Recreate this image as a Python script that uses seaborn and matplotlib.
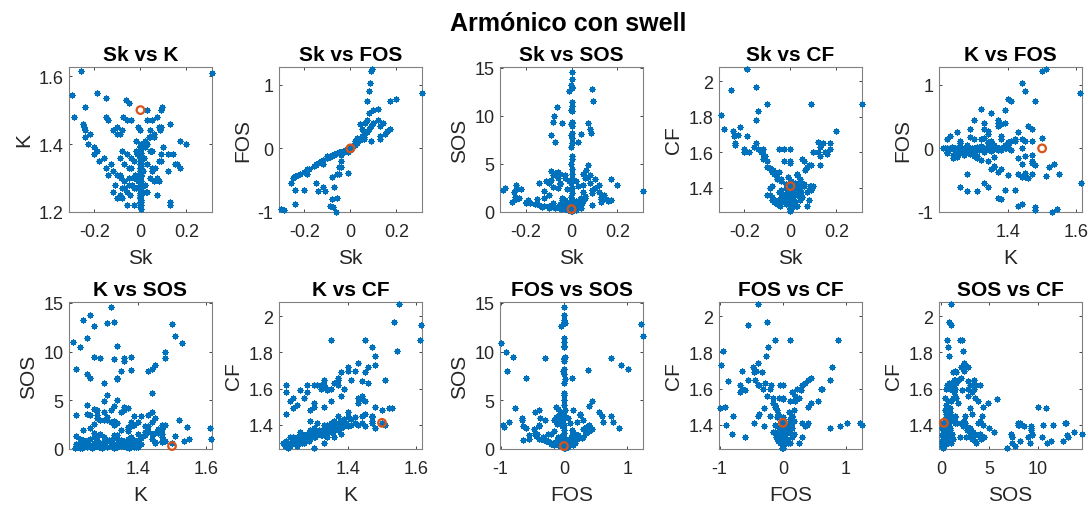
import itertools
import matplotlib
matplotlib.use('Agg')
import matplotlib.pyplot as plt
import pandas as pd
import seaborn as sns

BLUE = '#0072BD'
ORANGE = '#D95319'
variables = ['Sk', 'K', 'FOS', 'SOS', 'CF']

# core cluster: Sk ~ 0, FOS ~ 0, low SOS
core_sk = [0.000, 0.002, -0.003, 0.001, 0.004, -0.002, 0.000, 0.003, -0.004, 0.001,
           0.002, -0.001, 0.000, 0.005, -0.003, 0.002, 0.000, -0.002, 0.003, 0.001,
           -0.004, 0.000, 0.002, -0.001, 0.004, -0.002, 0.001, 0.000, 0.003, -0.003,
           0.001, 0.000, 0.002, -0.001, 0.004, -0.002, 0.000, 0.001, -0.001, 0.002]
core_k = [1.215, 1.22, 1.225, 1.23, 1.235, 1.24, 1.245, 1.25, 1.255, 1.26,
          1.265, 1.27, 1.275, 1.28, 1.285, 1.29, 1.295, 1.30, 1.305, 1.31,
          1.315, 1.32, 1.325, 1.33, 1.335, 1.34, 1.345, 1.35, 1.355, 1.36,
          1.365, 1.37, 1.375, 1.38, 1.385, 1.39, 1.395, 1.40, 1.23, 1.27]
core_fos = [0.00, 0.01, -0.01, 0.00, 0.02, -0.01, 0.00, 0.01, -0.02, 0.00,
            0.01, -0.01, 0.00, 0.02, -0.01, 0.00, 0.01, -0.01, 0.00, 0.02,
            -0.02, 0.00, 0.01, 0.00, 0.01, -0.01, 0.00, 0.00, 0.02, -0.01,
            0.00, 0.01, 0.00, -0.01, 0.02, 0.00, 0.01, 0.00, 0.00, -0.01]
core_sos = [0.1, 0.3, 0.2, 0.5, 0.1, 0.7, 0.3, 0.2, 0.9, 0.4,
            0.1, 0.6, 0.3, 0.8, 0.2, 0.5, 0.1, 0.7, 0.4, 0.2,
            0.9, 0.3, 0.6, 0.1, 0.5, 0.2, 0.8, 0.4, 0.3, 0.6,
            0.2, 0.5, 0.1, 0.7, 0.3, 0.4, 0.2, 0.6, 0.15, 0.25]
core_cf = [1.28, 1.30, 1.27, 1.29, 1.31, 1.30, 1.29, 1.32, 1.31, 1.33,
           1.30, 1.32, 1.34, 1.33, 1.31, 1.35, 1.34, 1.36, 1.33, 1.35,
           1.37, 1.36, 1.34, 1.38, 1.36, 1.37, 1.39, 1.38, 1.36, 1.40,
           1.39, 1.41, 1.38, 1.42, 1.40, 1.43, 1.41, 1.44, 1.28, 1.30]

# points just around the centre
near_sk = [-0.05, -0.04, -0.035, -0.03, -0.025, -0.02, -0.015, -0.01, 0.01, 0.015,
           0.02, 0.025, 0.03, 0.035, 0.04, 0.045, 0.05, -0.045, 0.02, -0.02]
near_k = [1.30, 1.33, 1.28, 1.35, 1.31, 1.27, 1.37, 1.29, 1.32, 1.36,
          1.40, 1.26, 1.34, 1.42, 1.30, 1.38, 1.33, 1.25, 1.39, 1.41]
near_fos = [-0.06, -0.05, -0.05, -0.04, -0.03, -0.03, -0.02, -0.01, 0.03, 0.05,
            0.06, 0.08, 0.10, 0.12, 0.14, 0.15, 0.17, -0.05, 0.05, -0.02]
near_sos = [0.8, 0.5, 1.2, 0.3, 0.9, 0.4, 0.2, 0.6, 0.3, 0.7,
            0.2, 1.0, 0.5, 1.4, 0.4, 0.9, 1.1, 0.3, 0.2, 0.5]
near_cf = [1.33, 1.35, 1.32, 1.36, 1.34, 1.31, 1.37, 1.32, 1.34, 1.37,
           1.39, 1.30, 1.36, 1.41, 1.33, 1.38, 1.35, 1.30, 1.39, 1.40]

# moderate SOS, low crest factor
mod_sk = [-0.08, -0.10, -0.09, -0.06, -0.05, -0.03, -0.02, 0.02, 0.03, 0.05,
          0.07, 0.09, 0.08, 0.10, -0.09, -0.07]
mod_k = [1.27, 1.31, 1.36, 1.26, 1.33, 1.30, 1.38, 1.28, 1.34, 1.32,
         1.25, 1.37, 1.29, 1.39, 1.31, 1.27]
mod_fos = [-0.11, -0.15, -0.13, -0.08, -0.06, -0.04, -0.03, 0.06, 0.09, 0.15,
           0.25, 0.35, 0.30, 0.40, -0.12, -0.10]
mod_sos = [2.6, 3.0, 4.3, 3.5, 2.9, 3.8, 2.4, 3.2, 2.7, 4.0,
           3.6, 2.3, 3.0, 2.5, 3.3, 4.1]
mod_cf = [1.33, 1.36, 1.40, 1.31, 1.38, 1.34, 1.42, 1.32, 1.37, 1.35,
          1.30, 1.39, 1.33, 1.41, 1.36, 1.32]

# vertical stripe of high SOS at Sk = 0, FOS = 0
stripe_sk = [0.0, 0.001, -0.001, 0.0, 0.002, -0.01, 0.0, 0.001, -0.001, 0.0,
             0.002, 0.0, -0.001, 0.001, 0.0, -0.002, 0.001, 0.03, 0.002, -0.001,
             0.0, 0.001, -0.001, 0.0, 0.002, 0.0, -0.002, 0.001, 0.0, -0.001, 0.0]
stripe_k = [1.32, 1.26, 1.24, 1.33, 1.31, 1.27, 1.25, 1.21, 1.34, 1.23,
            1.27, 1.29, 1.33, 1.36, 1.22, 1.35, 1.25, 1.26, 1.34, 1.30,
            1.44, 1.31, 1.34, 1.25, 1.36, 1.28, 1.30, 1.33, 1.24, 1.27, 1.30]
stripe_fos = [0.0, 0.005, -0.005, 0.0, 0.01, -0.05, 0.0, 0.005, -0.005, 0.0,
              0.01, 0.0, -0.005, 0.005, 0.0, -0.01, 0.005, 0.12, 0.01, -0.005,
              0.0, 0.005, -0.005, 0.0, 0.01, 0.0, -0.01, 0.005, 0.0, -0.005, 0.0]
stripe_sos = [14.6, 13.8, 13.2, 13.0, 12.9, 12.6, 11.4, 11.0, 10.6, 10.5,
              9.4, 9.3, 9.2, 9.0, 8.2, 8.0, 7.7, 7.3, 7.2, 6.8,
              5.8, 5.5, 5.0, 4.5, 4.0, 3.5, 3.0, 2.5, 2.0, 1.6, 1.2]
stripe_cf = [1.35, 1.36, 1.33, 1.34, 1.41, 1.31, 1.31, 1.30, 1.40, 1.33,
             1.34, 1.37, 1.30, 1.33, 1.31, 1.41, 1.28, 1.30, 1.35, 1.27,
             1.54, 1.36, 1.38, 1.33, 1.42, 1.35, 1.38, 1.40, 1.33, 1.55, 1.62]

# high SOS away from the stripe
hi_sk = [-0.065, -0.075, -0.08, -0.09, -0.07, -0.04, 0.07, 0.08, 0.085, 0.04, 0.09, 0.095]
hi_k = [1.53, 1.48, 1.38, 1.43, 1.34, 1.36, 1.48, 1.45, 1.44, 1.38, 1.50, 1.51]
hi_fos = [-1.0, -0.92, -0.8, -0.9, -0.6, -0.3, 0.75, 0.9, 1.02, 0.38, 1.22, 1.25]
hi_sos = [10.9, 10.0, 9.4, 8.0, 7.3, 9.3, 9.3, 8.6, 8.2, 8.1, 12.8, 11.6]
hi_cf = [1.49, 1.50, 1.35, 1.40, 1.33, 1.39, 1.38, 1.39, 1.41, 1.40, 1.41, 1.40]

# left arm: negative skewness, high crest factor
left_sk = [-0.30, -0.29, -0.26, -0.19, -0.15, -0.10, -0.14, -0.15, -0.25, -0.245,
           -0.24, -0.23, -0.22, -0.20, -0.20, -0.19, -0.18, -0.16, -0.15, -0.14,
           -0.13, -0.12, -0.12, -0.11, -0.10, -0.09, -0.085, -0.08, -0.07, -0.06,
           -0.05, -0.03, -0.03, -0.24, -0.24, -0.06]
left_k = [1.545, 1.48, 1.615, 1.55, 1.535, 1.45, 1.47, 1.48, 1.46, 1.45,
          1.51, 1.40, 1.43, 1.37, 1.39, 1.38, 1.35, 1.36, 1.33, 1.31,
          1.34, 1.26, 1.32, 1.28, 1.24, 1.25, 1.30, 1.24, 1.29, 1.22,
          1.28, 1.22, 1.27, 1.44, 1.42, 1.37]
left_fos = [-0.95, -0.97, -0.55, -0.40, -0.25, -0.12, -0.23, -0.26, -0.47, -0.45,
            -0.44, -0.42, -0.40, -0.37, -0.65, -0.33, -0.32, -0.28, -0.55, -0.67,
            -0.20, -0.60, -0.18, -0.67, -0.15, -0.13, -0.12, -0.11, -0.09, -0.08,
            -0.40, -0.05, -0.06, -0.87, -0.65, -0.78]
left_sos = [2.3, 2.5, 1.0, 1.0, 0.8, 0.6, 0.7, 0.8, 2.1, 1.6,
            1.3, 1.5, 2.4, 1.0, 0.9, 1.2, 0.9, 0.8, 1.4, 3.0,
            0.5, 2.2, 0.6, 3.2, 0.4, 0.5, 0.7, 0.9, 0.4, 0.5,
            4.0, 3.5, 1.2, 2.8, 2.4, 4.2]
left_cf = [1.81, 1.73, 1.95, 2.07, 1.97, 1.87, 1.83, 1.78, 1.72, 1.69,
           1.65, 1.70, 1.74, 1.62, 1.60, 1.69, 1.60, 1.63, 1.65, 1.62,
           1.60, 1.59, 1.62, 1.58, 1.55, 1.51, 1.50, 1.49, 1.48, 1.46,
           1.62, 1.62, 1.55, 1.64, 1.70, 1.45]

# right arm: positive skewness
right_sk = [0.03, 0.04, 0.05, 0.06, 0.065, 0.07, 0.08, 0.09, 0.10, 0.12,
            0.12, 0.13, 0.13, 0.13, 0.14, 0.15, 0.17, 0.17, 0.20, 0.16,
            0.09, 0.05, 0.06, 0.31]
right_k = [1.40, 1.42, 1.38, 1.43, 1.33, 1.30, 1.35, 1.35, 1.39, 1.32,
           1.37, 1.46, 1.23, 1.22, 1.37, 1.34, 1.41, 1.33, 1.40, 1.34,
           1.45, 1.47, 1.29, 1.61]
right_fos = [0.10, 0.14, 0.20, 0.25, 0.40, 0.45, 0.55, 0.12, 0.60, 0.62,
             0.45, 0.35, 0.20, 0.15, 0.40, 0.22, 0.75, 0.30, 0.78, 0.28,
             0.12, 0.30, 0.18, 0.87]
right_sos = [0.9, 1.5, 2.8, 3.5, 4.4, 4.9, 3.8, 2.0, 3.4, 2.8,
             2.1, 1.6, 1.0, 1.3, 1.8, 1.4, 3.4, 1.2, 2.8, 1.1,
             0.7, 2.1, 1.5, 2.2]
right_cf = [1.47, 1.44, 1.56, 1.55, 1.50, 1.52, 1.53, 1.87, 1.60, 1.60,
            1.66, 1.63, 1.53, 1.58, 1.65, 1.60, 1.65, 1.62, 1.72, 1.59,
            1.53, 1.41, 1.42, 1.87]

# middle points with higher kurtosis
mid_sk = [-0.05, -0.06, -0.04, 0.03, -0.01, 0.03, 0.04, -0.04, -0.12, -0.10, -0.08, 0.02, 0.06]
mid_k = [1.52, 1.47, 1.47, 1.47, 1.45, 1.50, 1.44, 1.47, 1.44, 1.43, 1.44, 1.41, 1.42]
mid_fos = [-0.30, -0.40, -0.10, 0.12, -0.38, 0.17, 0.15, -0.20, -0.25, -0.15, -0.45, 0.12, 0.15]
mid_sos = [3.0, 2.5, 1.2, 0.8, 3.2, 0.6, 1.0, 1.5, 1.5, 1.8, 3.8, 1.1, 1.7]
mid_cf = [1.49, 1.45, 1.44, 1.42, 1.46, 1.48, 1.45, 1.45, 1.56, 1.52, 1.41, 1.43, 1.41]

# highlighted reference point (orange circle)
ref_point = {'Sk': 0.0, 'K': 1.5, 'FOS': 0.0, 'SOS': 0.3, 'CF': 1.41}

# axis setup per variable
x_limits = {'Sk': (-0.311, 0.311), 'K': (1.198, 1.617), 'FOS': (-1.01, 1.25), 'SOS': (-0.2, 14.6)}
y_limits = {'K': (1.2, 1.627), 'FOS': (-1.0, 1.28), 'SOS': (0, 15.1), 'CF': (1.265, 2.08)}
x_ticks = {'Sk': [-0.2, 0, 0.2], 'K': [1.4, 1.6], 'FOS': [-1, 0, 1], 'SOS': [0, 5, 10]}
y_ticks = {'K': [1.2, 1.4, 1.6], 'FOS': [-1, 0, 1], 'SOS': [0, 5, 10, 15], 'CF': [1.4, 1.6, 1.8, 2]}


def build_frame():
    groups = ['core', 'near', 'mod', 'stripe', 'hi', 'left', 'right', 'mid']
    g = globals()
    df = pd.DataFrame({
        'Sk': sum((g[f'{n}_sk'] for n in groups), []),
        'K': sum((g[f'{n}_k'] for n in groups), []),
        'FOS': sum((g[f'{n}_fos'] for n in groups), []),
        'SOS': sum((g[f'{n}_sos'] for n in groups), []),
        'CF': sum((g[f'{n}_cf'] for n in groups), []),
    })
    return df


def plot_pairs(df):
    sns.set_theme(style='white')
    plt.rcParams['font.family'] = ['Liberation Sans', 'DejaVu Sans']
    plt.rcParams['xtick.direction'] = 'in'
    plt.rcParams['ytick.direction'] = 'in'

    fig = plt.figure(figsize=(10.88, 5.06), dpi=100)
    lefts = [0.0634, 0.2564, 0.4596, 0.6608, 0.8631]
    bottoms = [0.5791, 0.1107]
    heights = [0.2866, 0.2905]
    width = 0.1314

    pairs = list(itertools.combinations(variables, 2))
    for i, (xv, yv) in enumerate(pairs):
        row, col = divmod(i, 5)
        ax = fig.add_axes([lefts[col], bottoms[row], width, heights[row]])
        sns.scatterplot(data=df, x=xv, y=yv, ax=ax, marker=(8, 2, 0), s=15,
                        color=BLUE, linewidth=0.9, clip_on=False, legend=False, zorder=3)
        sns.scatterplot(x=[ref_point[xv]], y=[ref_point[yv]], ax=ax, marker='o', s=30,
                        facecolor='none', edgecolor=ORANGE, linewidth=1.6,
                        clip_on=False, legend=False, zorder=4)

        ax.set_xlim(x_limits[xv])
        ax.set_ylim(y_limits[yv])
        ax.set_xticks(x_ticks[xv])
        ax.set_xticklabels([f'{t:g}' for t in x_ticks[xv]])
        ax.set_yticks(y_ticks[yv])
        ax.set_yticklabels([f'{t:g}' for t in y_ticks[yv]])
        ax.tick_params(axis='x', labelsize=13, pad=8, length=2.5, width=0.6,
                       colors='#262626', top=True, bottom=True)
        ax.tick_params(axis='y', labelsize=13, pad=4, length=2.5, width=0.6,
                       colors='#262626', left=True, right=True)
        for spine in ax.spines.values():
            spine.set_color('#808080')
            spine.set_linewidth(0.8)
        ax.set_xlabel(xv, fontsize=15, color='#262626', labelpad=6)
        ax.set_ylabel(yv, fontsize=15, color='#262626', labelpad=4)
        ax.set_title(f'{xv} vs {yv}', fontsize=15, fontweight='bold', color='black', pad=5)

    fig.text(0.522, 0.953, 'Armónico con swell', ha='center', va='center',
             fontsize=18, fontweight='bold', color='black')
    fig.savefig('out.png', dpi=100)


if __name__ == "__main__":
    df = build_frame()
    plot_pairs(df)
